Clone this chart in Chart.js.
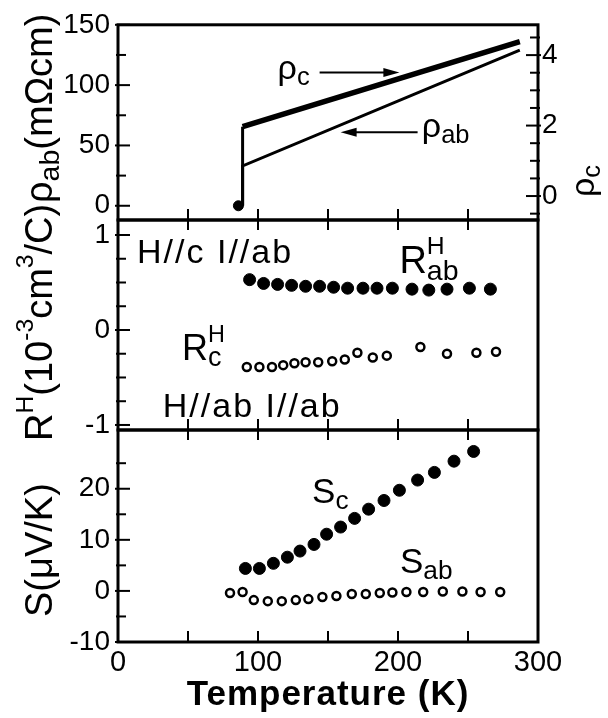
<!DOCTYPE html>
<html>
<head>
<meta charset="utf-8">
<script src="https://cdn.jsdelivr.net/npm/chart.js@4.4.0/dist/chart.umd.min.js"></script>
<style>
  body { margin: 0; background: #fff; }
  #wrap { position: relative; width: 608px; height: 718px; }
  #wrap canvas { position: absolute; left: 0; top: 0; }
</style>
</head>
<body>
<div id="wrap">
  <canvas id="c1" width="608" height="718"></canvas>
  <canvas id="c2" width="608" height="718"></canvas>
  <canvas id="c3" width="608" height="718"></canvas>
</div>
<script>
// shared temperature axis
const tempTicks = [0, 100, 200, 300];
const tempMarks = [50, 100, 150, 200, 250];

// resistivity (top panel)
const rhoTemp = [89, 89, 287];
const rhoAb = [0, 33, 129];
const rhoC = [-0.27, 1.97, 4.38];
const onsetTemp = [86];
const onsetRho = [0];
const rhoAbTicks = [0, 50, 100, 150];
const rhoAbMinor = [25, 75, 125];
const rhoCTicks = [0, 2, 4];
const rhoCMinor = [-0.5, 0.5, 1, 1.5, 2.5, 3, 3.5, 4.5];

// Hall coefficient (middle panel)
const hallTempAb = [94, 104, 114, 124, 134, 144, 154, 164, 175, 185, 196, 210, 222, 235, 251, 266];
const hallAb = [0.53, 0.49, 0.48, 0.47, 0.46, 0.46, 0.45, 0.44, 0.44, 0.44, 0.44, 0.43, 0.42, 0.43, 0.44, 0.43];
const hallTempC = [92, 101, 110, 118, 126, 134, 143, 153, 162, 171, 182, 192, 216, 235, 256, 270];
const hallC = [-0.39, -0.39, -0.39, -0.37, -0.35, -0.34, -0.34, -0.33, -0.31, -0.24, -0.29, -0.27, -0.18, -0.25, -0.24, -0.23];
const hallTicks = [-1, 0, 1];
const hallMinor = [-0.75, -0.5, -0.25, 0.25, 0.5, 0.75];

// thermopower (bottom panel)
const seebTempC = [91, 101, 111, 121, 130, 140, 149, 159, 169, 179, 190, 201, 214, 226, 240, 254];
const seebC = [4.4, 4.4, 5.4, 6.6, 7.8, 9.1, 11.1, 12.5, 14.2, 16.0, 17.7, 19.7, 21.7, 23.2, 25.4, 27.3];
const seebTempAb = [80, 89, 97, 107, 117, 127, 136, 146, 156, 167, 177, 187, 196, 206, 218, 232, 246, 259, 273];
const seebAb = [-0.4, -0.2, -1.8, -2.0, -2.0, -1.8, -1.6, -1.2, -1.0, -0.6, -0.6, -0.4, -0.3, -0.2, -0.2, -0.1, -0.1, -0.2, -0.2];
const seebTicks = [-10, 0, 10, 20];
const seebMinor = [-5, 5, 15, 25];

const FONT = '"Liberation Sans", Arial, Helvetica, sans-serif';
Chart.defaults.font.family = FONT;
Chart.defaults.color = '#000';

const pts = (xs, ys) => xs.map((x, i) => ({ x, y: ys[i] }));

function xScale(show) {
  return {
    type: 'linear', min: 0, max: 300, display: show,
    grid: { display: false, drawTicks: false }, border: { display: false },
    afterBuildTicks: s => { s.ticks = tempTicks.map(v => ({ value: v })); },
    afterFit: s => { s.height = show ? 76 : 0; },
    ticks: { font: { size: 29 }, color: '#000', padding: 4, maxRotation: 0, autoSkip: false }
  };
}

function yScale(min, max, ticks, pos, width) {
  return {
    type: 'linear', position: pos, min, max,
    grid: { display: false, drawTicks: false }, border: { display: false },
    afterBuildTicks: s => { s.ticks = ticks.map(v => ({ value: v })); },
    afterFit: s => { s.width = width; },
    ticks: { font: { size: 28 }, color: '#000', padding: pos === 'right' ? 4 : 8, autoSkip: false }
  };
}

function drawParts(ctx, parts, size) {
  let cx = 0;
  parts.forEach(p => {
    if (typeof p === 'string') {
      ctx.font = `${size}px ${FONT}`;
      ctx.fillText(p, cx, 0);
      cx += ctx.measureText(p).width;
    } else {
      let w = 0;
      if (p.sup) {
        ctx.font = `${size * 0.65}px ${FONT}`;
        ctx.fillText(p.sup, cx, -size * 0.5);
        w = ctx.measureText(p.sup).width;
      }
      if (p.sub) {
        ctx.font = `${size * 0.75}px ${FONT}`;
        ctx.fillText(p.sub, cx, size * 0.18);
        w = Math.max(w, ctx.measureText(p.sub).width);
      }
      cx += w;
    }
  });
}

// frame, inward tick marks, labels and arrows
function decor(cfg) {
  return {
    id: 'decor',
    afterDraw(chart) {
      const { ctx, chartArea: a, scales } = chart;
      ctx.save();
      ctx.strokeStyle = '#000';
      ctx.fillStyle = '#000';
      ctx.lineWidth = 3;
      ctx.strokeRect(a.left, a.top, a.right - a.left, a.bottom - a.top);
      ctx.lineWidth = 2;
      const line = (x1, y1, x2, y2) => { ctx.beginPath(); ctx.moveTo(x1, y1); ctx.lineTo(x2, y2); ctx.stroke(); };

      (cfg.yMarks || []).forEach(m => {
        const s = scales[m.axis];
        const x0 = m.side === 'right' ? a.right : a.left;
        const dir = m.side === 'right' ? -1 : 1;
        m.major.forEach(v => { const y = s.getPixelForValue(v); line(x0 - dir * 3, y, x0 + dir * 12, y); });
        m.minor.forEach(v => { const y = s.getPixelForValue(v); line(x0 - dir * 2, y, x0 + dir * 8, y); });
      });
      const xs = scales.x;
      if (cfg.xTop) tempMarks.forEach(v => { const x = xs.getPixelForValue(v); line(x, a.top, x, a.top + 10); });
      if (cfg.xBottom) tempMarks.forEach(v => { const x = xs.getPixelForValue(v); line(x, a.bottom, x, a.bottom - 11); });

      ctx.textBaseline = 'alphabetic';
      ctx.textAlign = 'left';
      (cfg.notes || []).forEach(n => {
        ctx.save();
        if (n.spacing) ctx.letterSpacing = n.spacing + 'px';
        if (n.px !== undefined) {
          ctx.translate(n.px, n.py);
          ctx.rotate(n.rot || 0);
        } else {
          ctx.translate(xs.getPixelForValue(n.t), scales[n.axis].getPixelForValue(n.v));
        }
        drawParts(ctx, n.parts, n.size);
        ctx.restore();
      });

      (cfg.arrows || []).forEach(ar => {
        const y = scales[ar.axis].getPixelForValue(ar.v);
        const x1 = xs.getPixelForValue(ar.from), x2 = xs.getPixelForValue(ar.to);
        const d = Math.sign(x2 - x1);
        ctx.lineWidth = 2;
        line(x1, y, x2 - d * 10, y);
        ctx.beginPath();
        ctx.moveTo(x2, y);
        ctx.lineTo(x2 - d * 16, y - 4.5);
        ctx.lineTo(x2 - d * 16, y + 4.5);
        ctx.closePath();
        ctx.fill();
      });

      if (cfg.title) {
        ctx.font = `bold 35px ${FONT}`;
        ctx.letterSpacing = '1px';
        ctx.textAlign = 'center';
        ctx.textBaseline = 'middle';
        ctx.fillText(cfg.title, (a.left + a.right) / 2, 695);
      }
      ctx.restore();
    }
  };
}

const filled = { showLine: false, pointStyle: 'circle', pointRadius: 6, backgroundColor: '#000', borderColor: '#000', borderWidth: 1 };
const open = { showLine: false, pointStyle: 'circle', pointRadius: 4, backgroundColor: '#fff', borderColor: '#000', borderWidth: 2.5 };

const common = {
  responsive: false,
  animation: false,
  devicePixelRatio: 1,
  plugins: { legend: { display: false }, tooltip: { enabled: false } },
  events: []
};

// top panel
new Chart(document.getElementById('c1'), {
  type: 'scatter',
  data: {
    datasets: [
      { data: pts(rhoTemp, rhoAb), yAxisID: 'y', showLine: true, borderColor: '#000', borderWidth: 3, pointRadius: 0 },
      { data: pts(rhoTemp, rhoC), yAxisID: 'yR', showLine: true, borderColor: '#000', borderWidth: 5.5, pointRadius: 0,
        segment: { borderWidth: c => c.p0DataIndex === 0 ? 3 : 5.5 } },
      Object.assign({ data: pts(onsetTemp, onsetRho), yAxisID: 'y' }, filled, { pointRadius: 5 })
    ]
  },
  options: Object.assign({}, common, {
    layout: { padding: { top: 15, bottom: 498, left: 0, right: 0 } },
    scales: {
      x: xScale(false),
      y: yScale(-11.8, 150, rhoAbTicks, 'left', 118),
      yR: yScale(-0.68, 4.86, rhoCTicks, 'right', 70)
    }
  }),
  plugins: [decor({
    xBottom: true,
    yMarks: [
      { axis: 'y', side: 'left', major: rhoAbTicks, minor: rhoAbMinor },
      { axis: 'yR', side: 'right', major: rhoCTicks, minor: rhoCMinor }
    ],
    notes: [
      { parts: ['ρ', { sub: 'c' }], size: 34, t: 114, v: 105, axis: 'y' },
      { parts: ['ρ', { sub: 'ab' }], size: 34, t: 217, v: 57, axis: 'y' },
      { parts: ['ρ', { sub: 'ab' }, '(mΩcm)'], size: 38, px: 52, py: 203, rot: -Math.PI / 2 },
      { parts: ['ρ', { sub: 'c' }], size: 34, px: 594, py: 197, rot: -Math.PI / 2 }
    ],
    arrows: [
      { from: 144, to: 201, v: 110.5, axis: 'y' },
      { from: 214, to: 159, v: 61, axis: 'y' }
    ]
  })]
});

// middle panel
new Chart(document.getElementById('c2'), {
  type: 'scatter',
  data: {
    datasets: [
      Object.assign({ data: pts(hallTempAb, hallAb) }, filled),
      Object.assign({ data: pts(hallTempC, hallC) }, open)
    ]
  },
  options: Object.assign({}, common, {
    layout: { padding: { top: 220, bottom: 288, left: 0, right: 70 } },
    scales: {
      x: xScale(false),
      y: yScale(-1.053, 1.158, hallTicks, 'left', 118)
    }
  }),
  plugins: [decor({
    xTop: true, xBottom: true,
    yMarks: [{ axis: 'y', side: 'left', major: hallTicks, minor: hallMinor }],
    notes: [
      { parts: ['H//c I//ab'], size: 34, spacing: 2, t: 13.6, v: 0.705, axis: 'y' },
      { parts: ['H//ab I//ab'], size: 34, spacing: 2, t: 32, v: -0.916, axis: 'y' },
      { parts: ['R', { sup: 'H', sub: 'c' }], size: 36, t: 45.7, v: -0.316, axis: 'y' },
      { parts: ['R', { sup: 'H', sub: 'ab' }], size: 38, t: 201, v: 0.6, axis: 'y' },
      { parts: ['R', { sup: 'H' }, '(10', { sup: '-3' }, 'cm', { sup: '3' }, '/C)'], size: 38, px: 52, py: 441, rot: -Math.PI / 2 }
    ]
  })]
});

// bottom panel
new Chart(document.getElementById('c3'), {
  type: 'scatter',
  data: {
    datasets: [
      Object.assign({ data: pts(seebTempC, seebC) }, filled),
      Object.assign({ data: pts(seebTempAb, seebAb) }, open)
    ]
  },
  options: Object.assign({}, common, {
    layout: { padding: { top: 430, bottom: 0, left: 0, right: 70 } },
    scales: {
      x: xScale(true),
      y: yScale(-10, 31.5, seebTicks, 'left', 118)
    }
  }),
  plugins: [decor({
    xTop: true, xBottom: true,
    yMarks: [{ axis: 'y', side: 'left', major: seebTicks, minor: seebMinor }],
    notes: [
      { parts: ['S', { sub: 'c' }], size: 35, t: 138.6, v: 17.2, axis: 'y' },
      { parts: ['S', { sub: 'ab' }], size: 35, t: 201.4, v: 3.5, axis: 'y' },
      { parts: ['S(μV/K)'], size: 38, px: 52, py: 617, rot: -Math.PI / 2 }
    ],
    title: 'Temperature (K)'
  })]
});
</script>
</body>
</html>
